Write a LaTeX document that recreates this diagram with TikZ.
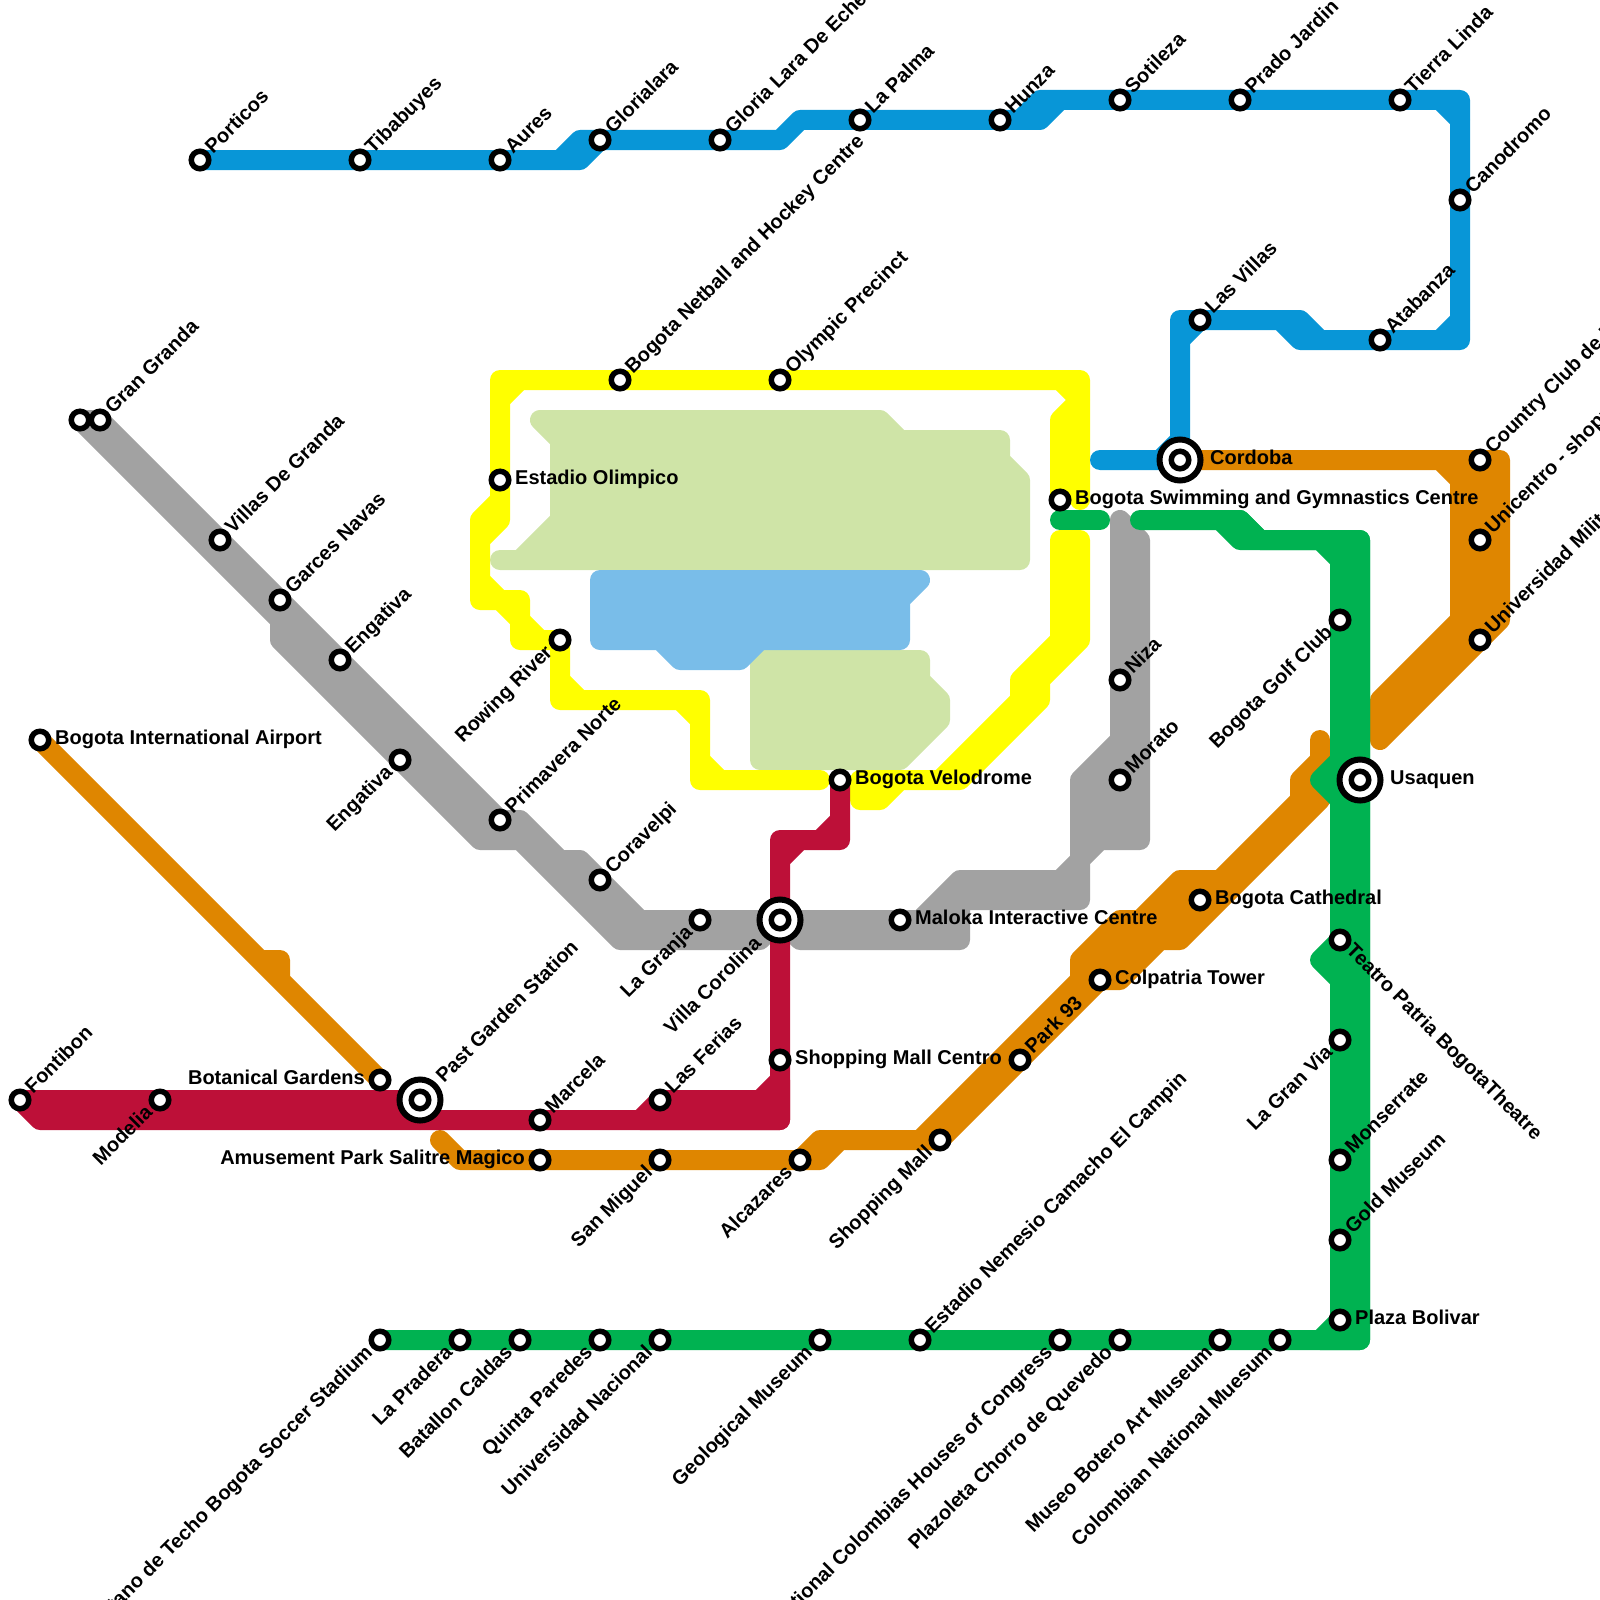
\documentclass[tikz,border=0pt]{standalone}
\usepackage{fontspec}
\setmainfont{Liberation Sans}
\usetikzlibrary{backgrounds}
\definecolor{lineblue}{HTML}{0896D7}
\definecolor{linered}{HTML}{BD1038}
\definecolor{lineorange}{HTML}{DF8600}
\definecolor{linegrey}{HTML}{A2A2A2}
\definecolor{linegreen}{HTML}{00B251}
\definecolor{lineyellow}{HTML}{FFFF00}
\definecolor{parkgreen}{HTML}{CFE4A7}
\definecolor{waterblue}{HTML}{79BDE9}

\begin{document}
\begin{tikzpicture}[
  x=1pt, y=-1pt,
  stn/.style={circle, draw=black, fill=white, line width=5.5pt, minimum size=17.5pt, inner sep=0pt},
  hub/.style={circle, draw=black, fill=white, line width=6pt, minimum size=41pt, inner sep=0pt},
  lbl/.style={font=\bfseries\fontsize{20}{22}\selectfont, inner sep=0pt},
  tne/.style={lbl, rotate=45, anchor=base west, xshift=13pt, yshift=-5.5pt},
  tsw/.style={lbl, rotate=45, anchor=base east, xshift=-14pt, yshift=-5pt},
  tse/.style={lbl, rotate=-45, anchor=base west, xshift=12pt, yshift=-4.5pt},
  tea/.style={lbl, anchor=base west, xshift=15pt, yshift=-4.5pt},
  twe/.style={lbl, anchor=base east, xshift=-15pt, yshift=-4.5pt},
  ln/.style={line width=20pt, line cap=round, line join=round},
  blueln/.style={ln, draw=lineblue},
  redln/.style={ln, draw=linered},
  orangeln/.style={ln, draw=lineorange},
  greyln/.style={ln, draw=linegrey},
  greenln/.style={ln, draw=linegreen},
  yellowln/.style={ln, draw=lineyellow},
]
  \useasboundingbox (0,0) rectangle (1600,1600);

  \node[stn] (porticos) at (200,160) {};
  \node[stn] (tibabuyes) at (360,160) {};
  \node[stn] (aures) at (500,160) {};
  \node[stn] (glorialara) at (600,140) {};
  \node[stn] (glorialde) at (720,140) {};
  \node[stn] (lapalma) at (860,120) {};
  \node[stn] (hunza) at (1000,120) {};
  \node[stn] (sotileza) at (1120,100) {};
  \node[stn] (prado) at (1240,100) {};
  \node[stn] (tierra) at (1400,100) {};
  \node[stn] (canodromo) at (1460,200) {};
  \node[stn] (atabanza) at (1380,340) {};
  \node[stn] (villas) at (1200,320) {};
  \node[hub] (cordoba) at (1180,460) {};
  \node[stn] (cordobain) at (cordoba) {};

  \node[stn] (netball) at (620,380) {};
  \node[stn] (olympic) at (780,380) {};
  \node[stn] (estadio) at (500,480) {};
  \node[stn] (rowing) at (560,640) {};
  \node[stn] (velodrome) at (840,780) {};
  \node[stn] (swimming) at (1060,500) {};

  \node[stn] (country) at (1480,460) {};
  \node[stn] (unicentro) at (1480,540) {};
  \node[stn] (militar) at (1480,640) {};
  \node[stn] (airport) at (40,740) {};
  \node[stn] (botanical) at (380,1080) {};
  \node[stn] (amusement) at (540,1160) {};
  \node[stn] (sanmiguel) at (660,1160) {};
  \node[stn] (alcazares) at (800,1160) {};
  \node[stn] (shopmall) at (940,1140) {};
  \node[stn] (parkn) at (1020,1060) {};
  \node[stn] (colpatria) at (1100,980) {};
  \node[stn] (cathedral) at (1200,900) {};

  \node[stn] (techo) at (380,1340) {};
  \node[stn] (pradera) at (460,1340) {};
  \node[stn] (batallon) at (520,1340) {};
  \node[stn] (quinta) at (600,1340) {};
  \node[stn] (nacional) at (660,1340) {};
  \node[stn] (geological) at (820,1340) {};
  \node[stn] (nemesio) at (920,1340) {};
  \node[stn] (congress) at (1060,1340) {};
  \node[stn] (chorro) at (1120,1340) {};
  \node[stn] (botero) at (1220,1340) {};
  \node[stn] (muesum) at (1280,1340) {};
  \node[stn] (plaza) at (1340,1320) {};
  \node[stn] (gold) at (1340,1240) {};
  \node[stn] (monserrate) at (1340,1160) {};
  \node[stn] (granvia) at (1340,1040) {};
  \node[stn] (teatro) at (1340,940) {};
  \node[hub] (usaquen) at (1360,780) {};
  \node[stn] (usaqueni) at (usaquen) {};
  \node[stn] (golf) at (1340,620) {};

  \node[stn] (granda) at (100,420) {};
  \node[stn] (grandaw) at (80,420) {};
  \node[stn] (villasg) at (220,540) {};
  \node[stn] (garces) at (280,600) {};
  \node[stn] (engativa) at (340,660) {};
  \node[stn] (engativb) at (400,760) {};
  \node[stn] (primavera) at (500,820) {};
  \node[stn] (coravelpi) at (600,880) {};
  \node[stn] (granja) at (700,920) {};
  \node[hub] (corolina) at (780,920) {};
  \node[stn] (corolinai) at (corolina) {};
  \node[stn] (maloka) at (900,920) {};
  \node[stn] (niza) at (1120,680) {};
  \node[stn] (morato) at (1120,780) {};

  \node[stn] (fontibon) at (20,1100) {};
  \node[stn] (modelia) at (160,1100) {};
  \node[hub] (past) at (420,1100) {};
  \node[stn] (pasti) at (past) {};
  \node[stn] (marcela) at (540,1120) {};
  \node[stn] (ferias) at (660,1100) {};
  \node[stn] (centro) at (780,1060) {};

  \node[tne] (porticost) at (porticos) {Porticos};
  \node[tne] (tibabuyest) at (tibabuyes) {Tibabuyes};
  \node[tne] (aurest) at (aures) {Aures};
  \node[tne] (glorialarat) at (glorialara) {Glorialara};
  \node[tne] (glorialdet) at (glorialde) {Gloria Lara De Echeverri};
  \node[tne] (lapalmat) at (lapalma) {La Palma};
  \node[tne] (hunzat) at (hunza) {Hunza};
  \node[tne] (sotilezat) at (sotileza) {Sotileza};
  \node[tne] (pradot) at (prado) {Prado Jardin};
  \node[tne] (tierrat) at (tierra) {Tierra Linda};
  \node[tne] (canodromot) at (canodromo) {Canodromo};
  \node[tne] (atabanzat) at (atabanza) {Atabanza};
  \node[tne] (villast) at (villas) {Las Villas};
  \node[tea, xshift=15pt] (cordobat) at (cordoba) {Cordoba};

  \node[tne] (netballt) at (netball) {Bogota Netball and Hockey Centre};
  \node[tne] (olympict) at (olympic) {Olympic Precinct};
  \node[tea] (estadiot) at (estadio) {Estadio Olimpico};
  \node[tsw] (rowingt) at (rowing) {Rowing River};
  \node[tea] (velodromet) at (velodrome) {Bogota Velodrome};
  \node[tea] (swimmingt) at (swimming) {Bogota Swimming and Gymnastics Centre};

  \node[tne] (countryt) at (country) {Country Club de Bogota};
  \node[tne] (unicentrot) at (unicentro) {Unicentro - shopping mall};
  \node[tne] (militart) at (militar) {Universidad Militar};
  \node[tea] (airportt) at (airport) {Bogota International Airport};
  \node[twe] (botanicalt) at (botanical) {Botanical Gardens};
  \node[twe] (amusementt) at (amusement) {Amusement Park Salitre Magico};
  \node[tsw] (sanmiguelt) at (sanmiguel) {San Miguel};
  \node[tsw] (alcazarest) at (alcazares) {Alcazares};
  \node[tsw] (shopmallt) at (shopmall) {Shopping Mall};
  \node[tne] (parknt) at (parkn) {Park 93};
  \node[tea] (colpatriat) at (colpatria) {Colpatria Tower};
  \node[tea] (cathedralt) at (cathedral) {Bogota Cathedral};

  \node[tsw] (techot) at (techo) {Metropolitano de Techo Bogota Soccer Stadium};
  \node[tsw] (praderat) at (pradera) {La Pradera};
  \node[tsw] (batallont) at (batallon) {Batallon Caldas};
  \node[tsw] (quintat) at (quinta) {Quinta Paredes};
  \node[tsw] (nacionalt) at (nacional) {Universidad Nacional};
  \node[tsw] (geologicalt) at (geological) {Geological Museum};
  \node[tne] (nemesiot) at (nemesio) {Estadio Nemesio Camacho El Campin};
  \node[tsw] (congresst) at (congress) {National Colombias Houses of Congress};
  \node[tsw] (chorrot) at (chorro) {Plazoleta Chorro de Quevedo};
  \node[tsw] (boterot) at (botero) {Museo Botero Art Museum};
  \node[tsw] (muesumt) at (muesum) {Colombian National Muesum};
  \node[tea] (plazat) at (plaza) {Plaza Bolivar};
  \node[tne] (goldt) at (gold) {Gold Museum};
  \node[tne] (monserratet) at (monserrate) {Monserrate};
  \node[tsw] (granviat) at (granvia) {La Gran Via};
  \node[tse] (teatrot) at (teatro) {Teatro Patria BogotaTheatre};
  \node[tea, xshift=15pt] (usaquent) at (usaquen) {Usaquen};
  \node[tsw] (golft) at (golf) {Bogota Golf Club};

  \node[tne] (grandat) at (granda) {Gran Granda};
  \node[tne] (villasgt) at (villasg) {Villas De Granda};
  \node[tne] (garcest) at (garces) {Garces Navas};
  \node[tne] (engativat) at (engativa) {Engativa};
  \node[tsw] (engativbt) at (engativb) {Engativa};
  \node[tne] (primaverat) at (primavera) {Primavera Norte};
  \node[tne] (coravelpit) at (coravelpi) {Coravelpi};
  \node[tsw] (granjat) at (granja) {La Granja};
  \node[tsw, xshift=-16pt] (corolinat) at (corolina) {Villa Corolina};
  \node[tea] (malokat) at (maloka) {Maloka Interactive Centre};
  \node[tne] (nizat) at (niza) {Niza};
  \node[tne] (moratot) at (morato) {Morato};

  \node[tne] (fontibont) at (fontibon) {Fontibon};
  \node[tsw] (modeliat) at (modelia) {Modelia};
  \node[tne, xshift=15.5pt] (pastt) at (past) {Past Garden Station};
  \node[tne] (marcelat) at (marcela) {Marcela};
  \node[tne] (feriast) at (ferias) {Las Ferias};
  \node[tea] (centrot) at (centro) {Shopping Mall Centro};

  \begin{scope}[on background layer]
    \draw[ln, draw=parkgreen, fill=parkgreen] (540,420) -- (880,420) -- (900,440) -- (1000,440) -- (1000,460) -- (1020,480) -- (1020,560) -- (500,560) -- (520,560) -- (560,520) -- (560,440) -- cycle;
    \draw[ln, draw=parkgreen, fill=parkgreen] (760,660) -- (920,660) -- (920,680) -- (940,700) -- (940,720) -- (900,760) -- (760,760) -- cycle;
    \draw[ln, draw=waterblue, fill=waterblue] (600,580) -- (920,580) -- (900,600) -- (900,640) -- (760,640) -- (740,660) -- (680,660) -- (660,640) -- (600,640) -- cycle;

    \draw[greyln, fill=linegrey] (grandaw.center) -- (granda.center) -- (villasg.center) -- (garces.center) -- (engativa.center) -- (primavera.center) -- (520,820) -- (560,860) -- (580,860) -- (640,920) -- (granja.center) -- (780,920) -- (760,940) -- (620,940) -- (520,840) -- (480,840) -- (engativb.center) -- (280,640) -- (280,620) -- cycle;
    \draw[greyln, fill=linegrey] (780,920) -- (maloka.center) -- (920,920) -- (960,880) -- (1060,880) -- (1080,860) -- (1080,780) -- (1120,740) -- (niza.center) -- (1120,520) -- (1140,540) -- (1140,840) -- (1100,840) -- (1080,860) -- (1080,900) -- (960,900) -- (960,940) -- (800,940) -- cycle;

    \draw[yellowln] (1080,500) -- (1080,380) -- (olympic.center) -- (netball.center) -- (500,380) -- (estadio.center) -- (500,520) -- (480,540) (500,500) -- (480,520) -- (480,600) -- (520,600) -- (520,640) -- (rowing.center) -- (560,700) -- (700,700) -- (700,780) -- (820,780);
    \draw[yellowln] (500,400) -- (520,380) (480,580) -- (500,600) -- (520,620) -- (540,640) (560,680) -- (580,700) (680,700) -- (700,720) (700,760) -- (720,780) (1060,380) -- (1080,400) -- (1060,420) -- (swimming.center);
    \draw[yellowln, fill=lineyellow] (1060,540) -- (1080,540) -- (1080,640) -- (1040,680) -- (1040,700) -- (960,780) -- (900,780) -- (880,800) -- (860,800) -- (860,780) -- (940,780) -- (1020,700) -- (1020,680) -- (1060,640) -- cycle;

    \draw[blueln] (porticos.center) -- (tibabuyes.center) -- (aures.center) -- (580,160) -- (600,140) -- (glorialde.center) -- (780,140) -- (800,120) -- (lapalma.center) -- (hunza.center) -- (1040,120) -- (1060,100) -- (sotileza.center) -- (prado.center) -- (tierra.center) -- (1460,100) -- (canodromo.center) -- (1460,340) -- (atabanza.center) -- (1300,340) -- (1280,320) -- (villas.center) -- (1180,320) -- (cordoba.center) -- (1100,460);
    \draw[blueln] (560,160) -- (580,140) -- (glorialara.center) (1020,120) -- (1040,100) -- (1060,100) (1440,100) -- (1460,120) (1440,340) -- (1460,320) (1300,320) -- (1320,340) (1280,320) -- (1300,320) (1180,340) -- (1200,320) (1160,460) -- (1180,440);

    \draw[orangeln, fill=lineorange] (cordoba.center) -- (country.center) -- (1500,460) -- (1500,620) -- (militar.center) -- (1380,740) -- (1380,700) -- (1460,620) -- (1460,480) -- (1440,460) -- cycle;
    \draw[orangeln, fill=lineorange] (920,1140) -- (1080,980) -- (1080,960) -- (1120,920) -- (1140,920) -- (1180,880) -- (1220,880) -- (1300,800) -- (1300,780) -- (1320,760) -- (1320,740) -- (1320,800) -- (1180,940) -- (1160,940) -- (1120,980) -- (colpatria.center) -- (shopmall.center) -- cycle;
    \draw[orangeln] (440,1140) -- (460,1160) -- (amusement.center) -- (sanmiguel.center) -- (alcazares.center) -- (820,1160) -- (840,1140) -- (shopmall.center) (800,1160) -- (820,1140) -- (840,1140);
    \draw[orangeln] (airport.center) -- (260,960) -- (280,960) -- (280,980) -- (botanical.center) (260,960) -- (280,980);

    \draw[redln, fill=linered] (fontibon.center) -- (modelia.center) -- (past.center) -- (420,1120) -- (40,1120) -- cycle;
    \draw[redln, fill=linered] (640,1120) -- (ferias.center) -- (760,1100) -- (780,1080) -- (780,1120) -- cycle;
    \draw[redln] (420,1120) -- (marcela.center) -- (780,1120) -- (centro.center) -- (corolina.center) -- (780,840) -- (840,840) -- (velodrome.center) (780,860) -- (800,840) (820,840) -- (840,820);

    \draw[greenln] (1060,520) -- (1100,520);
    \draw[greenln] (1140,520) -- (1240,520) -- (1260,540) -- (1360,540) -- (usaquen.center) -- (1360,1340) -- (muesum.center) -- (botero.center) -- (chorro.center) -- (congress.center) -- (nemesio.center) -- (geological.center) -- (nacional.center) -- (quinta.center) -- (batallon.center) -- (pradera.center) -- (techo.center);
    \draw[greenln, fill=linegreen] (1220,520) -- (1240,540) -- (1320,540) -- (1340,560) -- (golf.center) -- (1340,760) -- (1320,780) -- (1340,800) -- (teatro.center) -- (1320,960) -- (1340,980) -- (granvia.center) -- (monserrate.center) -- (gold.center) -- (plaza.center) -- (1320,1340) -- (1360,1340) -- (1360,540) -- (1260,540) -- (1240,520) -- cycle;
  \end{scope}
\end{tikzpicture}
\end{document}
